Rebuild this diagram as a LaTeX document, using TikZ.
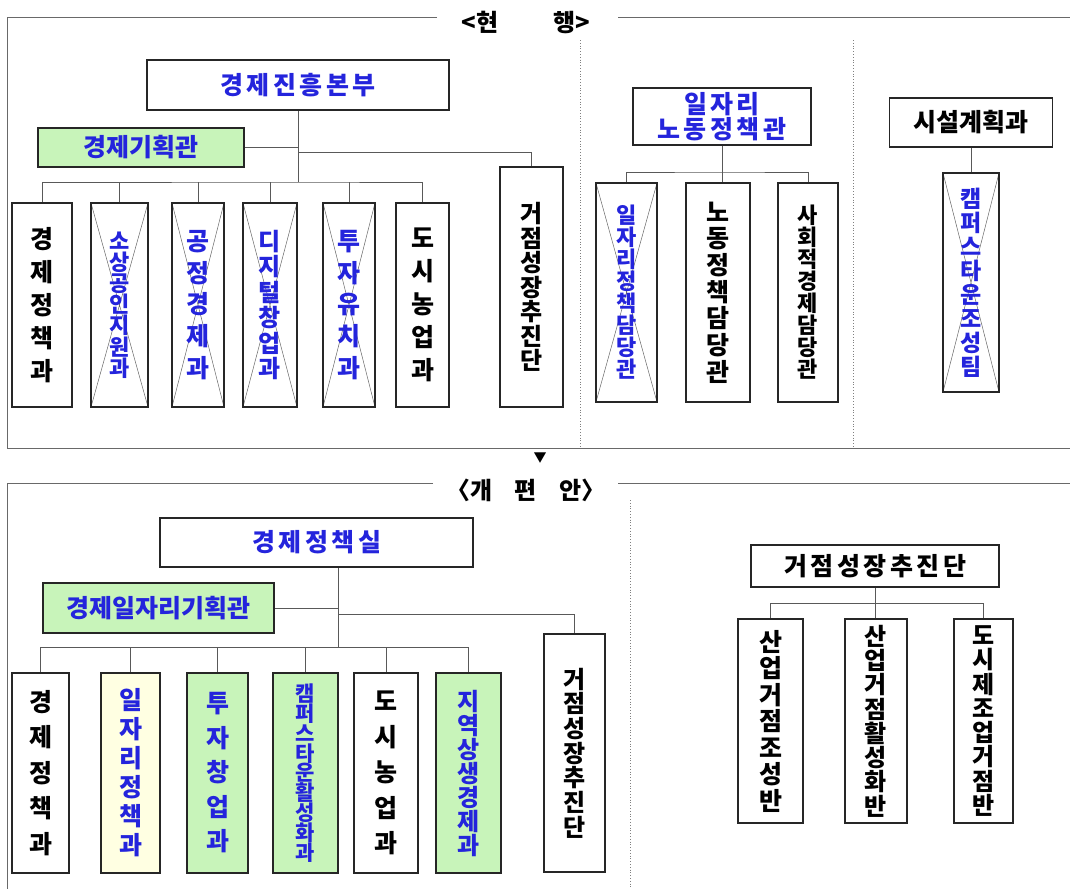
\documentclass[tikz,border=0pt]{standalone}
\usepackage{fontspec}
\setmainfont{Noto Sans CJK KR}
\usetikzlibrary{calc, positioning}
\definecolor{deptblue}{RGB}{36,36,220}
\definecolor{deptgreen}{RGB}{200,244,186}
\definecolor{deptyellow}{RGB}{255,255,226}
\definecolor{framegray}{RGB}{105,105,105}
\newcommand{\ls}{\hspace{3.5pt}}

\begin{document}
\begin{tikzpicture}[x=1pt, y=-1pt,
	unit/.style={rectangle, draw=black!85, line width=1.8pt, inner sep=0pt, align=center, font=\bfseries\fontsize{25}{27}\selectfont},
	dims/.style 2 args={minimum width=#1, minimum height=#2},
	vstack/.style 2 args={font=\bfseries\fontsize{#1}{#2}\selectfont},
	bluetext/.style={text=deptblue},
	greenbox/.style={fill=deptgreen},
	crossed/.style={path picture={\draw[black!60, line width=0.5pt] (path picture bounding box.north west) -- (path picture bounding box.south east) (path picture bounding box.north east) -- (path picture bounding box.south west);}},
	link/.style={draw=black!65, line width=0.9pt},
	frame/.style={draw=framegray, line width=1pt},
	divider/.style={draw=black!50, dotted, line width=0.8pt},
	heading/.style={font=\bfseries\fontsize{24}{26}\selectfont, inner sep=0pt}]
	\useasboundingbox (0,0) rectangle (1070,889);

	% current organisation
	\draw [frame] (437,17) -- (7,17) -- (7,448) -- (1070,448);
	\draw [frame] (618,17) -- (1070,17);
	\node [heading] (nowTitle) at (526,22) {<현\hspace{55pt}행>};
	\draw [divider] (580,40) -- (580,448);
	\draw [divider] (853,40) -- (853,448);

	\node [unit, dims={302}{50}, bluetext] (hqA) at (298,85) {경\ls 제\ls 진\ls 흥\ls 본\ls 부};
	\node [unit, dims={206}{39}, bluetext, greenbox] (planA) at (141,147.5) {경제기획관};
	\node [unit, dims={60}{204}, vstack={25}{33}] (a1) at (42,305) {경\\제\\정\\책\\과};
	\node [unit, dims={57}{204}, vstack={22}{21.2}, bluetext, crossed] (a2) at (119.5,305) {소\\상\\공\\인\\지\\원\\과};
	\node [unit, dims={52}{204}, vstack={25}{31.8}, bluetext, crossed] (a3) at (198,305) {공\\정\\경\\제\\과};
	\node [unit, dims={54}{204}, vstack={24}{25.4}, bluetext, crossed] (a4) at (270,305) {디\\지\\털\\창\\업\\과};
	\node [unit, dims={52}{204}, vstack={25}{31.8}, bluetext, crossed] (a5) at (349,305) {투\\자\\유\\치\\과};
	\node [unit, dims={53}{204}, vstack={25}{33}] (a6) at (422.5,305) {도\\시\\농\\업\\과};
	\node [unit, dims={63}{240}, vstack={24}{24.5}] (a7) at (531.5,287) {거\\점\\성\\장\\추\\진\\단};

	\coordinate (busA) at (298,182);
	\draw [link] (hqA.south) -- (busA);
	\draw [link] (planA.east) -- (planA.east -| hqA.south);
	\draw [link] (hqA.south |- 0,152) -| (a7.north);
	\draw [link] (a1.north) |- (busA) -| (a6.north);
	\foreach \n in {a2,a3,a4,a5}
		\draw [link] (\n.north) -- (\n.north |- busA);

	\node [unit, dims={178}{57}, bluetext, font=\bfseries\fontsize{25}{23}\selectfont] (jobA) at (722,116.5) {일\ls 자\ls 리\\노\ls 동\ls 정\ls 책\ls 관};
	\node [unit, dims={61}{219}, vstack={22}{22}, bluetext, crossed] (b1) at (626.5,292.5) {일\\자\\리\\정\\책\\담\\당\\관};
	\node [unit, dims={64}{219}, vstack={25}{26.7}] (b2) at (718,292.5) {노\\동\\정\\책\\담\\당\\관};
	\node [unit, dims={60}{219}, vstack={22}{22}] (b3) at (808,292.5) {사\\회\\적\\경\\제\\담\\당\\관};
	\coordinate (busB) at (722,172);
	\draw [link] (jobA.south) -- (jobA.south |- b2.north);
	\draw [link] (b1.north) |- (busB) -| (b3.north);

	\node [unit, dims={163}{49}] (facA) at (971,122.5) {시설계획과};
	\node [unit, dims={56}{219}, vstack={23}{24}, bluetext, crossed] (c1) at (971,282.5) {캠\\퍼\\스\\타\\운\\조\\성\\팀};
	\draw [link] (facA.south) -- (c1.north);

	\node [font=\fontsize{13}{13}\selectfont, inner sep=0pt] (turn) at (540,458) {▼};

	% reorganisation plan
	\draw [frame] (433,483) -- (7,483) -- (7,889);
	\draw [frame] (618,483) -- (1070,483);
	\node [heading] (newTitle) at (526,490) {〈개\hspace{22pt}편\hspace{22pt}안〉};
	\draw [divider] (630,500) -- (630,889);

	\node [unit, dims={313}{49}, bluetext] (hqB) at (316.5,542.5) {경\ls 제\ls 정\ls 책\ls 실};
	\node [unit, dims={231}{50}, bluetext, greenbox] (planB) at (158.5,608) {경제일자리기획관};
	\node [unit, dims={57}{200}, vstack={25}{35.5}] (d1) at (40.5,773) {경\\제\\정\\책\\과};
	\node [unit, dims={59}{200}, vstack={25}{29}, bluetext, fill=deptyellow] (d2) at (130.5,773) {일\\자\\리\\정\\책\\과};
	\node [unit, dims={61}{200}, vstack={25}{34.5}, bluetext, greenbox] (d3) at (217.5,773) {투\\자\\창\\업\\과};
	\node [unit, dims={65}{200}, vstack={21}{19.8}, bluetext, greenbox] (d4) at (305.5,773) {캠\\퍼\\스\\타\\운\\활\\성\\화\\과};
	\node [unit, dims={64}{200}, vstack={25}{35.5}] (d5) at (386,773) {도\\시\\농\\업\\과};
	\node [unit, dims={65}{200}, vstack={24}{24}, bluetext, greenbox] (d6) at (468.5,773) {지\\역\\상\\생\\경\\제\\과};
	\node [unit, dims={61}{238}, vstack={24}{24.7}] (d7) at (574.5,753) {거\\점\\성\\장\\추\\진\\단};

	\coordinate (trunkB) at ([xshift=21.5pt]hqB.south);
	\coordinate (busD) at (trunkB |- 0,647);
	\draw [link] (trunkB) -- (busD);
	\draw [link] (planB.east) -- (planB.east -| trunkB);
	\draw [link] (trunkB |- 0,614) -| (d7.north);
	\draw [link] (d1.north) |- (busD) -| (d6.north);
	\foreach \n in {d2,d3,d4,d5}
		\draw [link] (\n.north) -- (\n.north |- busD);

	\node [unit, dims={248}{42}] (hubC) at (875,566) {거\ls 점\ls 성\ls 장\ls 추\ls 진\ls 단};
	\node [unit, dims={65}{204}, vstack={25}{26.5}] (e1) at (770.5,721) {산\\업\\거\\점\\조\\성\\반};
	\node [unit, dims={62}{204}, vstack={24}{24.3}] (e2) at (876,721) {산\\업\\거\\점\\활\\성\\화\\반};
	\node [unit, dims={59}{204}, vstack={24}{24.3}] (e3) at (983.5,721) {도\\시\\제\\조\\업\\거\\점\\반};
	\coordinate (busE) at (875,603);
	\draw [link] (hubC.south) -- (hubC.south |- e2.north);
	\draw [link] (e1.north) |- (busE) -| (e3.north);
\end{tikzpicture}
\end{document}
